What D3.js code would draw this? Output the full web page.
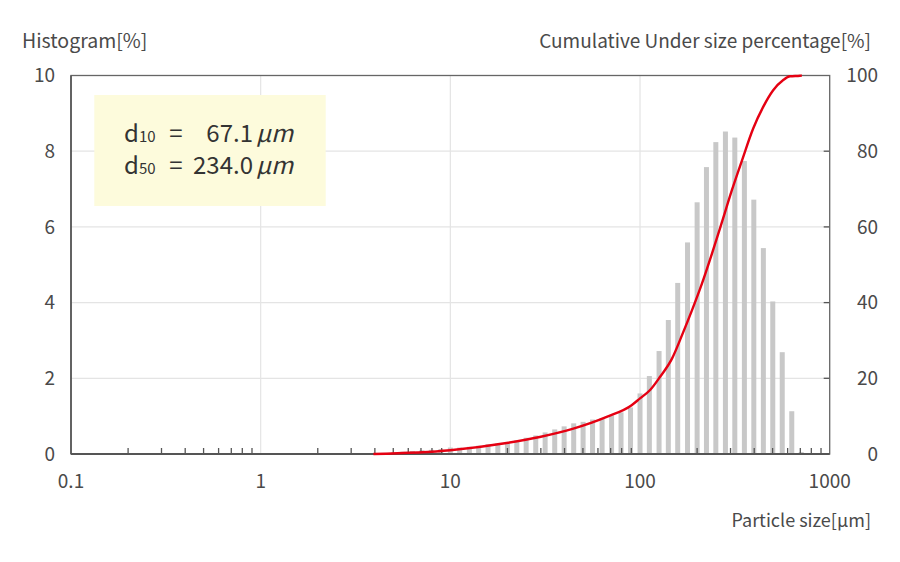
<!DOCTYPE html>
<html>
<head>
<meta charset="utf-8">
<script src="https://cdn.jsdelivr.net/npm/d3@7"></script>
<style>
  html, body { margin: 0; padding: 0; background: #fff; }
  svg { display: block; font-family: "Noto Sans CJK JP", "Noto Sans", sans-serif; }
</style>
</head>
<body>
<svg id="chart" width="900" height="562"></svg>
<script>
// ---- data ----
const binSizes = [4.47, 5.01, 5.62, 6.31, 7.08, 7.94, 8.91, 10.0, 11.2, 12.6, 14.1, 15.8, 17.8,
  20.0, 22.4, 25.1, 28.2, 31.6, 35.5, 39.8, 44.7, 50.1, 56.2, 63.1, 70.8, 79.4, 89.1,
  100, 112, 126, 141, 158, 178, 200, 224, 251, 282, 316, 355, 398, 447, 501, 562, 631, 708];
const histValues = [0.03, 0.04, 0.06, 0.08, 0.10, 0.11, 0.13, 0.17, 0.17, 0.19, 0.22, 0.26, 0.28,
  0.31, 0.36, 0.43, 0.49, 0.57, 0.65, 0.73, 0.81, 0.85, 0.91, 0.95, 1.02, 1.10, 1.23,
  1.60, 2.06, 2.72, 3.54, 4.52, 5.59, 6.65, 7.58, 8.24, 8.52, 8.36, 7.74, 6.72, 5.44, 4.03, 2.69, 1.13, 0.05];
const cumSizes = [3.93, 10, 19.8, 29.6, 44.5, 66.7, 90.3, 100, 113, 127.6, 147.4, 166.5, 188, 212, 239.7, 270.5,
  305, 345, 395, 446, 503.5, 569, 617, 697, 713];
const cumValues = [0, 1.0, 2.9, 4.5, 6.7, 9.8, 12.9, 14.7, 16.9, 20.4, 25.2, 31.4, 38.0, 45.0, 53.0, 61.3,
  69.7, 77.6, 86.0, 91.7, 96.1, 98.8, 99.8, 99.95, 100];
const xTickValues = [0.1, 1, 10, 100, 1000];
const xTickLabels = ["0.1", "1", "10", "100", "1000"];
const yLeftTicks = [0, 2, 4, 6, 8, 10];
const yRightTicks = [0, 20, 40, 60, 80, 100];
const statLabels = ["10", "50"];
const statValues = ["67.1", "234.0"];

// ---- layout ----
const L = 71, R = 829.7, T = 75.5, B = 454;
const svg = d3.select("#chart");
const x = d3.scaleLog().domain([0.1, 1000]).range([L, R]);
const yL = d3.scaleLinear().domain([0, 10]).range([B, T]);
const yR = d3.scaleLinear().domain([0, 100]).range([B, T]);
const textCol = "#4a4a4a";

// gridlines
const grid = svg.append("g");
grid.selectAll("line.h").data([2, 4, 6, 8]).join("line")
  .attr("x1", L).attr("x2", R).attr("y1", d => yL(d)).attr("y2", d => yL(d))
  .attr("stroke", "#e4e4e4").attr("stroke-width", 1.2);
grid.selectAll("line.v").data([1, 10, 100]).join("line")
  .attr("x1", d => x(d)).attr("x2", d => x(d)).attr("y1", T).attr("y2", B)
  .attr("stroke", "#e4e4e4").attr("stroke-width", 1.2);

// histogram bars
const barW = 5;
svg.append("g").selectAll("rect").data(binSizes).join("rect")
  .attr("x", d => x(d) - barW / 2)
  .attr("width", barW)
  .attr("y", (d, i) => yL(histValues[i]))
  .attr("height", (d, i) => B - yL(histValues[i]))
  .attr("fill", "#c8c8c8");

// minor ticks on x axis (inside, pointing up)
const minor = [];
[0.1, 1, 10, 100].forEach(dec => { for (let k = 2; k <= 9; k++) minor.push(dec * k); });
svg.append("g").selectAll("line").data(minor).join("line")
  .attr("x1", d => x(d)).attr("x2", d => x(d)).attr("y1", B).attr("y2", B - 6)
  .attr("stroke", "#555").attr("stroke-width", 1.3);

// right axis ticks (inside, pointing left)
svg.append("g").selectAll("line").data([20, 40, 60, 80]).join("line")
  .attr("x1", R).attr("x2", R - 6).attr("y1", d => yR(d)).attr("y2", d => yR(d))
  .attr("stroke", "#555").attr("stroke-width", 1.3);

// frame
svg.append("rect").attr("x", L).attr("y", T).attr("width", R - L).attr("height", B - T)
  .attr("fill", "none").attr("stroke", "#666").attr("stroke-width", 1.3);
svg.append("line").attr("x1", L).attr("x2", R).attr("y1", B).attr("y2", B)
  .attr("stroke", "#555").attr("stroke-width", 2);
svg.append("line").attr("x1", L).attr("x2", L).attr("y1", T).attr("y2", B)
  .attr("stroke", "#555").attr("stroke-width", 1.6);

// cumulative curve
const line = d3.line().x((d, i) => x(cumSizes[i])).y(d => yR(d)).curve(d3.curveMonotoneX);
svg.append("path").datum(cumValues).attr("d", line)
  .attr("fill", "none").attr("stroke", "#e50012").attr("stroke-width", 2.4);

// tick labels
svg.append("g").selectAll("text").data(yLeftTicks).join("text")
  .attr("x", 55).attr("y", d => yL(d)).attr("dy", "0.36em").attr("text-anchor", "end")
  .attr("font-size", 19).attr("fill", textCol).text(d => d);
svg.append("g").selectAll("text").data(yRightTicks).join("text")
  .attr("x", 878).attr("y", d => yR(d)).attr("dy", "0.36em").attr("text-anchor", "end")
  .attr("font-size", 19).attr("fill", textCol).text(d => d);
svg.append("g").selectAll("text").data(xTickValues).join("text")
  .attr("x", d => x(d)).attr("y", 488).attr("text-anchor", "middle")
  .attr("font-size", 19).attr("fill", textCol).text((d, i) => xTickLabels[i]);

// axis titles
svg.append("text").attr("x", 22).attr("y", 48).attr("font-size", 19.5).attr("fill", textCol).text("Histogram[%]");
svg.append("text").attr("x", 871).attr("y", 48).attr("text-anchor", "end").attr("font-size", 19).attr("fill", textCol).text("Cumulative Under size percentage[%]");
svg.append("text").attr("x", 871).attr("y", 527).attr("text-anchor", "end").attr("font-size", 18).attr("fill", textCol).text("Particle size[µm]");

// stats box
svg.append("rect").attr("x", 94.3).attr("y", 95).attr("width", 231.4).attr("height", 111).attr("fill", "#fdfbdc");
const rows = svg.append("g").selectAll("g").data(statLabels).join("g")
  .attr("transform", (d, i) => `translate(0,${i === 0 ? 141.5 : 173.5})`);
rows.append("text").attr("x", 124).attr("font-size", 24).attr("fill", "#333")
  .text("d").append("tspan").attr("font-size", 15).text(d => d);
rows.append("text").attr("x", 176).attr("text-anchor", "middle").attr("font-size", 24).attr("fill", "#333").text("=");
rows.append("text").attr("x", 253).attr("text-anchor", "end").attr("font-size", 24).attr("fill", "#333").text((d, i) => statValues[i]);
rows.append("text").attr("x", 256).attr("font-size", 24).attr("font-style", "italic").attr("fill", "#333").text("µm");
</script>
</body>
</html>
